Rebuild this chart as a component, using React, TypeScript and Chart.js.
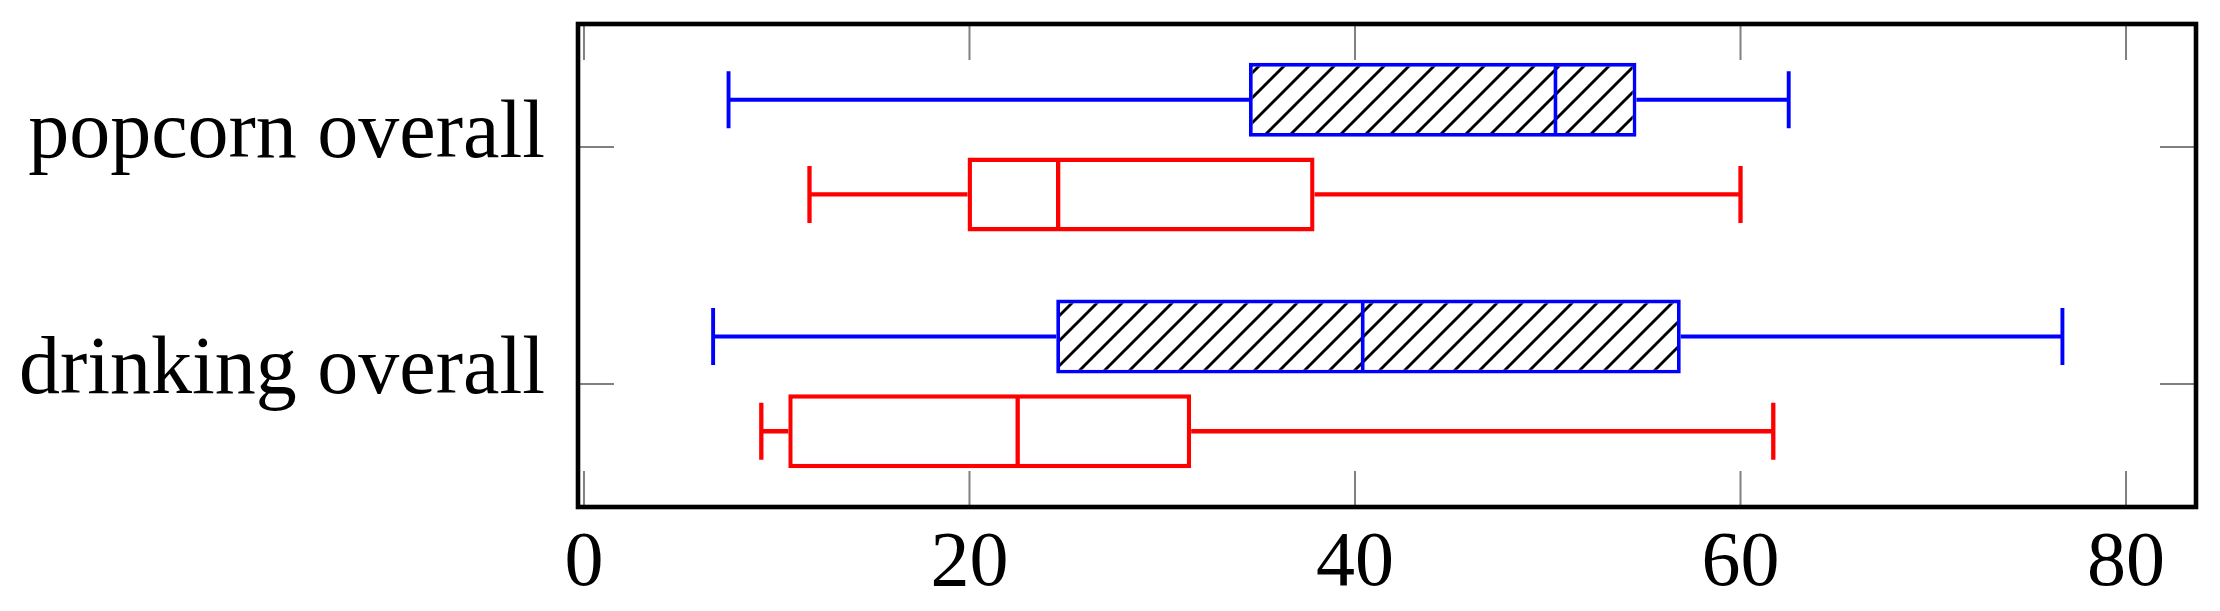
import React, { useEffect, useRef } from 'react';
import { Chart, registerables } from 'chart.js';

Chart.register(...registerables);

// ---- data ----
const categories = ['popcorn overall', 'drinking overall'];
const categoryPositions = [1.5, 4];
const xTickValues = [0, 20, 40, 60, 80];

// blue (hatched) series
const blueMin = [7.5, 6.7];
const blueQ1 = [34.5, 24.5];
const blueMedian = [50.4, 40.4];
const blueQ3 = [54.6, 56.9];
const blueMax = [62.5, 76.7];

// red series
const redMin = [11.7, 9.2];
const redQ1 = [19.9, 10.6];
const redMedian = [24.6, 22.5];
const redQ3 = [37.9, 31.5];
const redMax = [60.0, 61.7];

const BLUE = '#0000ff';
const RED = '#ff0000';
const GAP = { x: null, y: null };
const CAP_HALF = 0.3;
const BOX_HALF = 0.37;

function boxData(q1: number[], q3: number[], offset: number) {
  return categoryPositions.map((p, i) => ({ x: [q1[i], q3[i]], y: p + offset }));
}

function whiskerData(mins: number[], q1: number[], q3: number[], maxs: number[], offset: number) {
  const pts: any[] = [];
  categoryPositions.forEach((p, i) => {
    const y = p + offset;
    pts.push({ x: mins[i], y }, { x: q1[i], y }, GAP);
    pts.push({ x: q3[i], y }, { x: maxs[i], y }, GAP);
    pts.push({ x: mins[i], y: y - CAP_HALF }, { x: mins[i], y: y + CAP_HALF }, GAP);
    pts.push({ x: maxs[i], y: y - CAP_HALF }, { x: maxs[i], y: y + CAP_HALF }, GAP);
  });
  return pts;
}

function medianData(med: number[], offset: number) {
  const pts: any[] = [];
  categoryPositions.forEach((p, i) => {
    const y = p + offset;
    pts.push({ x: med[i], y: y - BOX_HALF }, { x: med[i], y: y + BOX_HALF }, GAP);
  });
  return pts;
}

function makeHatch(): CanvasPattern | string {
  const s = 25;
  const c = document.createElement('canvas');
  c.width = s;
  c.height = s;
  const g = c.getContext('2d');
  if (!g) return '#fff';
  g.fillStyle = '#ffffff';
  g.fillRect(0, 0, s, s);
  g.strokeStyle = '#000000';
  g.lineWidth = 2.9;
  g.beginPath();
  g.moveTo(-3, s + 3);
  g.lineTo(s + 3, -3);
  g.moveTo(-3, 3);
  g.lineTo(3, -3);
  g.moveTo(s - 3, s + 3);
  g.lineTo(s + 3, s - 3);
  g.stroke();
  return g.createPattern(c, 'repeat') || '#fff';
}

const framePlugin = {
  id: 'pgfFrame',
  afterDatasetsDraw(chart: any) {
    const { ctx, chartArea: a, scales } = chart;
    const tl = 36;
    ctx.save();
    ctx.strokeStyle = '#808080';
    ctx.lineWidth = 2;
    ctx.beginPath();
    scales.x.ticks.forEach((_t: any, i: number) => {
      const px = scales.x.getPixelForTick(i);
      ctx.moveTo(px, a.top);
      ctx.lineTo(px, a.top + tl);
      ctx.moveTo(px, a.bottom);
      ctx.lineTo(px, a.bottom - tl);
    });
    scales.y.ticks.forEach((_t: any, i: number) => {
      const py = scales.y.getPixelForTick(i);
      ctx.moveTo(a.left, py);
      ctx.lineTo(a.left + tl, py);
      ctx.moveTo(a.right, py);
      ctx.lineTo(a.right - tl, py);
    });
    ctx.stroke();
    ctx.strokeStyle = '#000000';
    ctx.lineWidth = 4.6;
    ctx.strokeRect(a.left, a.top, a.right - a.left, a.bottom - a.top);
    ctx.restore();
  },
};

export default function App() {
  const ref = useRef<HTMLCanvasElement>(null);

  useEffect(() => {
    if (!ref.current) return;
    const hatch = makeHatch();
    const chart = new Chart(ref.current, {
      type: 'bar',
      data: {
        datasets: [
          {
            type: 'bar',
            indexAxis: 'y',
            data: boxData(blueQ1, blueQ3, -0.5) as any,
            backgroundColor: hatch as any,
            borderColor: BLUE,
            borderWidth: 3.8,
            borderSkipped: false,
            grouped: false,
            barPercentage: 0.78,
            categoryPercentage: 1,
            order: 2,
          } as any,
          {
            type: 'bar',
            indexAxis: 'y',
            data: boxData(redQ1, redQ3, 0.5) as any,
            backgroundColor: '#ffffff',
            borderColor: RED,
            borderWidth: 4.4,
            borderSkipped: false,
            grouped: false,
            barPercentage: 0.78,
            categoryPercentage: 1,
            order: 2,
          } as any,
          {
            type: 'line',
            data: whiskerData(blueMin, blueQ1, blueQ3, blueMax, -0.5),
            borderColor: BLUE,
            borderWidth: 3.9,
            pointRadius: 0,
            fill: false,
            tension: 0,
            spanGaps: false,
            order: 1,
          } as any,
          {
            type: 'line',
            data: medianData(blueMedian, -0.5),
            borderColor: BLUE,
            borderWidth: 3.6,
            pointRadius: 0,
            fill: false,
            tension: 0,
            spanGaps: false,
            order: 0,
          } as any,
          {
            type: 'line',
            data: whiskerData(redMin, redQ1, redQ3, redMax, 0.5),
            borderColor: RED,
            borderWidth: 4.3,
            pointRadius: 0,
            fill: false,
            tension: 0,
            spanGaps: false,
            order: 1,
          } as any,
          {
            type: 'line',
            data: medianData(redMedian, 0.5),
            borderColor: RED,
            borderWidth: 4.3,
            pointRadius: 0,
            fill: false,
            tension: 0,
            spanGaps: false,
            order: 0,
          } as any,
        ],
      },
      options: {
        responsive: false,
        animation: false,
        devicePixelRatio: 1,
        layout: { padding: { top: 24, right: 24, left: 0, bottom: 0 } },
        plugins: {
          legend: { display: false },
          tooltip: { enabled: false },
        },
        scales: {
          x: {
            type: 'linear',
            offset: false,
            min: -0.31,
            max: 83.63,
            grid: { display: false, drawTicks: false, offset: false },
            border: { display: false },
            afterBuildTicks: (scale: any) => {
              scale.ticks = xTickValues.map((v) => ({ value: v }));
            },
            afterFit: (scale: any) => {
              scale.height = 104;
              scale.paddingLeft = 0;
              scale.paddingRight = 0;
            },
            ticks: {
              autoSkip: false,
              maxRotation: 0,
              padding: 11,
              color: '#000000',
              font: { family: '"Liberation Serif", serif', size: 78 },
              callback: (v: any) => String(v),
            },
          },
          y: {
            type: 'linear',
            offset: false,
            reverse: true,
            min: 0.2,
            max: 5.3,
            grid: { display: false, drawTicks: false, offset: false },
            border: { display: false },
            afterBuildTicks: (scale: any) => {
              scale.ticks = categoryPositions.map((v) => ({ value: v }));
            },
            afterFit: (scale: any) => {
              scale.width = 578;
              scale.paddingTop = 0;
              scale.paddingBottom = 0;
            },
            ticks: {
              autoSkip: false,
              padding: 33,
              labelOffset: -12,
              color: '#000000',
              font: { family: '"Liberation Serif", serif', size: 82 },
              callback: (v: any) => {
                const i = categoryPositions.indexOf(Number(v));
                return i >= 0 ? categories[i] : '';
              },
            },
          },
        },
      },
      plugins: [framePlugin],
    });
    return () => chart.destroy();
  }, []);

  return (
    <div style={{ position: 'absolute', left: 0, top: 0, width: 2220, height: 611, background: '#ffffff' }}>
      <canvas ref={ref} width={2220} height={611} style={{ display: 'block', width: 2220, height: 611 }} />
    </div>
  );
}
